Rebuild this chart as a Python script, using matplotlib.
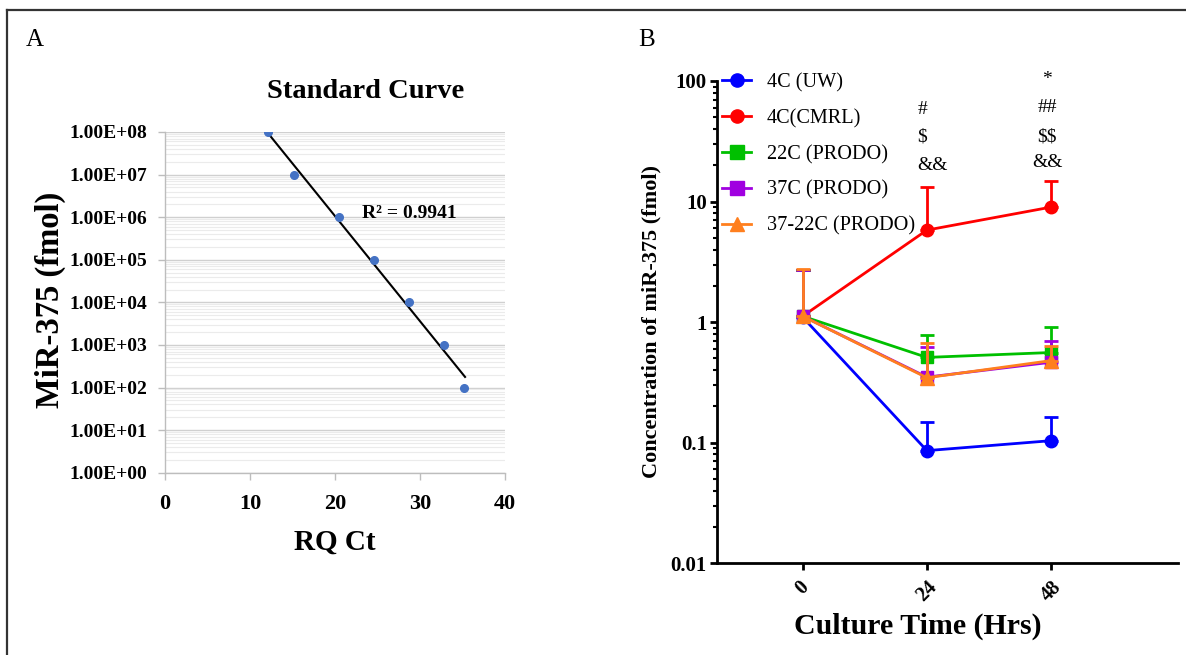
import numpy as np
import matplotlib
matplotlib.use("Agg")
import matplotlib.pyplot as plt
from matplotlib.lines import Line2D
from matplotlib.ticker import FixedLocator, NullFormatter, FixedFormatter
import matplotlib.transforms as mtransforms

plt.rcParams['font.family'] = ['Liberation Serif', 'DejaVu Serif']
plt.rcParams['text.parse_math'] = False

# ---------------- Data: panel A (standard curve) ----------------
rq_ct = [12.1, 15.2, 20.5, 24.6, 28.7, 32.8, 35.2]
conc_fmol = [1e8, 1e7, 1e6, 1e5, 1e4, 1e3, 1e2]
r2_label = "R² = 0.9941"
a_yticks = [1e0, 1e1, 1e2, 1e3, 1e4, 1e5, 1e6, 1e7, 1e8]
a_yticklabels = ["1.00E+00", "1.00E+01", "1.00E+02", "1.00E+03", "1.00E+04",
                 "1.00E+05", "1.00E+06", "1.00E+07", "1.00E+08"]
a_xticks = [0, 10, 20, 30, 40]

# ---------------- Data: panel B (culture time) ----------------
hours = [0, 24, 48]
series_names = ["4C (UW)", "4C(CMRL)", "22C (PRODO)", "37C (PRODO)", "37-22C (PRODO)"]
uw_mean = [1.10, 0.086, 0.104]
uw_top = [2.70, 0.148, 0.163]
cmrl_mean = [1.12, 5.8, 9.0]
cmrl_top = [2.70, 13.1, 14.9]
p22_mean = [1.12, 0.51, 0.56]
p22_top = [2.70, 0.78, 0.92]
p37_mean = [1.12, 0.35, 0.465]
p37_top = [2.70, 0.62, 0.70]
p3722_mean = [1.12, 0.346, 0.48]
p3722_top = [2.77, 0.67, 0.63]
b_yticks = [0.01, 0.1, 1, 10, 100]
b_yticklabels = ["0.01", "0.1", "1", "10", "100"]
annot_24 = ["#", "$", "&&"]
annot_48 = ["*", "##", "$$", "&&"]

W, H = 1186, 655
fig = plt.figure(figsize=(W / 100, H / 100), dpi=100)

def fx(px):
    return px / W

def fy(py):
    return 1 - py / H

def log_minors(majors):
    return [k * m for m in majors[:-1] for k in range(2, 10)]

# outer frame (top and left edges)
fig.add_artist(Line2D([fx(7), fx(1186)], [fy(10), fy(10)], color='#333333', lw=1.6))
fig.add_artist(Line2D([fx(7), fx(7)], [fy(10), fy(655)], color='#333333', lw=1.6))

# ---------------- Panel A ----------------
axA = fig.add_axes([fx(165), fy(472.7), fx(340), 340.7 / H])
axA.set_yscale('log')
axA.set_ylim(1e0, 1e8)
axA.set_xlim(0, 40)
axA.yaxis.set_major_locator(FixedLocator(a_yticks))
axA.yaxis.set_major_formatter(FixedFormatter(a_yticklabels))
axA.yaxis.set_minor_locator(FixedLocator(log_minors(a_yticks)))
axA.yaxis.set_minor_formatter(NullFormatter())
axA.set_xticks(a_xticks)
axA.grid(True, which='major', axis='y', color='#d0d0d0', lw=1.0)
axA.grid(True, which='minor', axis='y', color='#ebebeb', lw=0.8)
axA.set_axisbelow(True)
for s in ['top', 'right']:
    axA.spines[s].set_visible(False)
for s in ['left', 'bottom']:
    axA.spines[s].set_color('#bdbdbd')
    axA.spines[s].set_linewidth(1.0)
axA.tick_params(axis='both', which='major', length=5, color='#bdbdbd', width=1.0)
axA.tick_params(axis='y', which='minor', length=0)
axA.tick_params(axis='y', labelsize=14, pad=8)
axA.tick_params(axis='x', labelsize=16, pad=10)
for lab in axA.get_xticklabels() + axA.get_yticklabels():
    lab.set_fontweight('bold')

# trendline (exponential fit)
xs = np.array(rq_ct)
coef = np.polyfit(xs, np.log10(conc_fmol), 1)
xl = np.array([xs.min(), xs.max() + 0.1])
axA.plot(xl, 10 ** np.polyval(coef, xl), color='black', lw=1.5, zorder=3)
axA.plot(rq_ct, conc_fmol, 'o', color='#4472C4', ms=5.5, zorder=4)
fig.text(fx(362), fy(213), r2_label, fontsize=14, fontweight='bold',
         ha='left', va='center')
fig.text(fx(366), fy(92), "Standard Curve", fontsize=20.5, fontweight='bold',
         ha='center', va='center')
fig.text(fx(335), fy(542), "RQ Ct", fontsize=21, fontweight='bold',
         ha='center', va='center')
fig.text(fx(50), fy(300), "MiR-375 (fmol)", fontsize=23.5, fontweight='bold',
         ha='center', va='center', rotation=90)
fig.text(fx(26), fy(40), "A", fontsize=18, ha='left', va='center')

# ---------------- Panel B ----------------
axB = fig.add_axes([fx(716.7), fy(563.3), fx(1178 - 716.7), (563.3 - 81) / H])
axB.set_yscale('log')
axB.set_ylim(0.01, 100)
axB.set_xlim(-16.6, 72.5)
axB.yaxis.set_major_locator(FixedLocator(b_yticks))
axB.yaxis.set_major_formatter(FixedFormatter(b_yticklabels))
axB.yaxis.set_minor_locator(FixedLocator(log_minors(b_yticks)))
axB.yaxis.set_minor_formatter(NullFormatter())
axB.set_xticks(hours)
axB.set_xticklabels([str(h) for h in hours], rotation=45, ha='center', va='top')
for s in ['top', 'right']:
    axB.spines[s].set_visible(False)
for s in ['left', 'bottom']:
    axB.spines[s].set_linewidth(2.0)
    axB.spines[s].set_color('black')
axB.tick_params(axis='both', which='major', length=5, width=2, color='black')
axB.tick_params(axis='y', which='minor', length=3, width=1.5)
axB.tick_params(axis='y', labelsize=15, pad=2)
axB.tick_params(axis='x', labelsize=14.5, pad=5)
for lab in axB.get_xticklabels() + axB.get_yticklabels():
    lab.set_fontweight('bold')

series = [
    (uw_mean, uw_top, '#0000ff', 'o', 9),
    (cmrl_mean, cmrl_top, '#ff0000', 'o', 9),
    (p22_mean, p22_top, '#00c000', 's', 9),
    (p37_mean, p37_top, '#a000e0', 's', 9),
    (p3722_mean, p3722_top, '#ff7f1e', '^', 10),
]
handles = []
for i, (m, top, c, mk, ms) in enumerate(series):
    m = np.array(m)
    up = np.array(top) - m
    axB.errorbar(hours, m, yerr=[np.zeros_like(m), up], color=c, ecolor=c,
                 elinewidth=2, capsize=5, capthick=2, lw=2, marker=mk, ms=ms,
                 zorder=3 + i)
    handles.append(Line2D([0], [0], color=c, lw=2, marker=mk, ms=ms + 0.5))

leg = axB.legend(handles, series_names, loc='upper left', frameon=False,
                 bbox_to_anchor=(fx(722), fy(73)), bbox_transform=fig.transFigure,
                 fontsize=14.6, handlelength=1.45, handletextpad=0.75,
                 labelspacing=0.82, borderpad=0, borderaxespad=0)

trB = mtransforms.blended_transform_factory(axB.transData, fig.transFigure)
x24_left = 24 - 24 * (927 - 917.7) / 124.2
for txt, py in zip(annot_24, [110, 137, 165]):
    axB.text(x24_left, fy(py), txt, transform=trB, fontsize=14, ha='left', va='center')
for txt, py in zip(annot_48, [80, 108, 137, 163]):
    axB.text(48 - 24 * 4 / 124.2, fy(py), txt, transform=trB, fontsize=14,
             ha='center', va='center')

fig.text(fx(917.5), fy(626), "Culture Time (Hrs)", fontsize=21.5, fontweight='bold',
         ha='center', va='center')
fig.text(fx(651.5), fy(321), "Concentration of miR-375 (fmol)", fontsize=16,
         fontweight='bold', ha='center', va='center', rotation=90)
fig.text(fx(638), fy(40), "B", fontsize=18, ha='left', va='center')

fig.savefig("out.png", dpi=100)
